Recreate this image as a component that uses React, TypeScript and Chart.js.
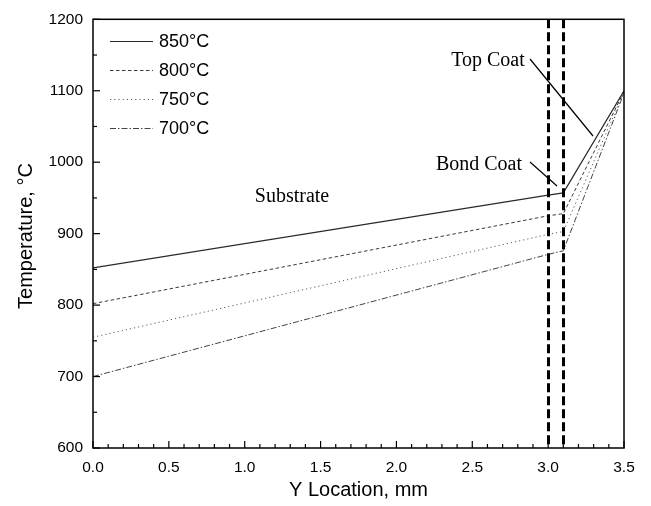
import { useEffect, useRef } from "react";
import { Chart, registerables } from "chart.js";

Chart.register(...registerables);

// Y location (mm) of the temperature nodes: substrate start, bond coat start/end, top coat surface
const locations = [0, 3.0, 3.1, 3.5];

// Temperatures (°C) for each substrate set-point
const temps850 = [852, 954, 957, 1100];
const temps800 = [802, 925, 928, 1099];
const temps750 = [755, 899, 903, 1098];
const temps700 = [700, 871, 876, 1097];

const seriesLabels = ["850°C", "800°C", "750°C", "700°C"];
const seriesValues = [temps850, temps800, temps750, temps700];
const seriesDashes: number[][] = [[], [3.5, 2.5], [1.2, 3], [6, 2, 1.5, 2]];
const seriesColors = ["#2a2a2a", "#3a3a3a", "#5a5a5a", "#444444"];

// Bond coat interfaces
const interfaces = [3.0, 3.1];

const xTicks = [0, 0.5, 1.0, 1.5, 2.0, 2.5, 3.0, 3.5];
const yTicks = [600, 700, 800, 900, 1000, 1100, 1200];

const SANS = "'Liberation Sans', Arial, sans-serif";
const SERIF = "'Liberation Serif', 'Times New Roman', serif";

const decorations = {
  id: "decorations",
  afterDatasetsDraw(chart: any) {
    const { ctx, chartArea } = chart;
    const xs = chart.scales.x;
    const ys = chart.scales.y;
    const { left, right, top, bottom } = chartArea;

    ctx.save();

    // Bond coat interface lines
    ctx.strokeStyle = "#000";
    ctx.lineWidth = 3;
    ctx.setLineDash([9, 4]);
    for (const v of interfaces) {
      const px = Math.round(xs.getPixelForValue(v)) + 0.5;
      ctx.beginPath();
      ctx.moveTo(px, top);
      ctx.lineTo(px, bottom);
      ctx.stroke();
    }
    ctx.setLineDash([]);

    // Frame
    ctx.lineWidth = 1.5;
    ctx.strokeStyle = "#000";
    ctx.strokeRect(left, top, right - left, bottom - top);

    // Inward ticks
    ctx.lineWidth = 1.2;
    for (let i = 0; i <= 35; i++) {
      const v = i / 10;
      const px = xs.getPixelForValue(v);
      const len = i % 5 === 0 ? 7 : 4;
      ctx.beginPath();
      ctx.moveTo(px, bottom);
      ctx.lineTo(px, bottom - len);
      ctx.stroke();
    }
    for (let v = 600; v <= 1200; v += 50) {
      const py = ys.getPixelForValue(v);
      const len = v % 100 === 0 ? 7 : 4;
      ctx.beginPath();
      ctx.moveTo(left, py);
      ctx.lineTo(left + len, py);
      ctx.stroke();
    }

    // Legend
    ctx.font = `18px ${SANS}`;
    ctx.textBaseline = "middle";
    ctx.textAlign = "left";
    seriesLabels.forEach((label, i) => {
      const y = 41 + i * 29;
      ctx.strokeStyle = seriesColors[i];
      ctx.lineWidth = 1;
      ctx.setLineDash(seriesDashes[i]);
      ctx.beginPath();
      ctx.moveTo(110, y + 0.5);
      ctx.lineTo(153, y + 0.5);
      ctx.stroke();
      ctx.setLineDash([]);
      ctx.fillStyle = "#000";
      ctx.fillText(label, 159, y + 1);
    });

    // Region annotations
    ctx.font = `20px ${SERIF}`;
    ctx.fillStyle = "#000";
    ctx.textAlign = "center";
    ctx.fillText("Substrate", 292, 197);
    ctx.fillText("Bond Coat", 479, 165);
    ctx.fillText("Top Coat", 488, 61);

    ctx.strokeStyle = "#000";
    ctx.lineWidth = 1.2;
    ctx.beginPath();
    ctx.moveTo(530, 162);
    ctx.lineTo(557, 186);
    ctx.moveTo(530, 59);
    ctx.lineTo(593, 136);
    ctx.stroke();

    // Axis titles
    ctx.font = `20px ${SANS}`;
    ctx.textAlign = "center";
    ctx.textBaseline = "middle";
    ctx.fillText("Y Location, mm", (left + right) / 2, 490);
    ctx.save();
    ctx.translate(26, 236);
    ctx.rotate(-Math.PI / 2);
    ctx.fillText("Temperature, °C", 0, 0);
    ctx.restore();

    ctx.restore();
  },
};

export default function App() {
  const canvasRef = useRef<HTMLCanvasElement | null>(null);

  useEffect(() => {
    const canvas = canvasRef.current;
    if (!canvas) return;

    const chart = new Chart(canvas, {
      type: "line",
      data: {
        datasets: seriesValues.map((vals, i) => ({
          label: seriesLabels[i],
          data: locations.map((x, j) => ({ x, y: vals[j] })),
          borderColor: seriesColors[i],
          borderWidth: i === 0 ? 1.2 : 1,
          borderDash: seriesDashes[i],
          pointRadius: 0,
          fill: false,
          tension: 0,
        })),
      },
      options: {
        responsive: false,
        animation: false,
        layout: { padding: { left: 0, top: 17, right: 27, bottom: 0 } },
        plugins: {
          legend: { display: false },
          tooltip: { enabled: false },
        },
        scales: {
          x: {
            type: "linear",
            min: 0,
            max: 3.5,
            afterFit: (s: any) => {
              s.height = 58;
            },
            afterBuildTicks: (s: any) => {
              s.ticks = xTicks.map((value) => ({ value }));
            },
            grid: { display: false, drawTicks: false },
            border: { display: false },
            ticks: {
              padding: 10,
              color: "#000",
              font: { family: SANS, size: 15.5 },
              maxRotation: 0,
              callback: (v: any) => Number(v).toFixed(1),
            },
          },
          y: {
            type: "linear",
            min: 600,
            max: 1200,
            afterFit: (s: any) => {
              s.width = 93;
            },
            afterBuildTicks: (s: any) => {
              s.ticks = yTicks.map((value) => ({ value }));
            },
            grid: { display: false, drawTicks: false },
            border: { display: false },
            ticks: {
              padding: 10,
              color: "#000",
              font: { family: SANS, size: 15.5 },
              callback: (v: any) => String(v),
            },
          },
        },
      },
      plugins: [decorations],
    });

    return () => chart.destroy();
  }, []);

  return (
    <div style={{ position: "absolute", left: 0, top: 0, width: 651, height: 506, background: "#fff" }}>
      <canvas ref={canvasRef} width={651} height={506} style={{ display: "block" }} />
    </div>
  );
}
